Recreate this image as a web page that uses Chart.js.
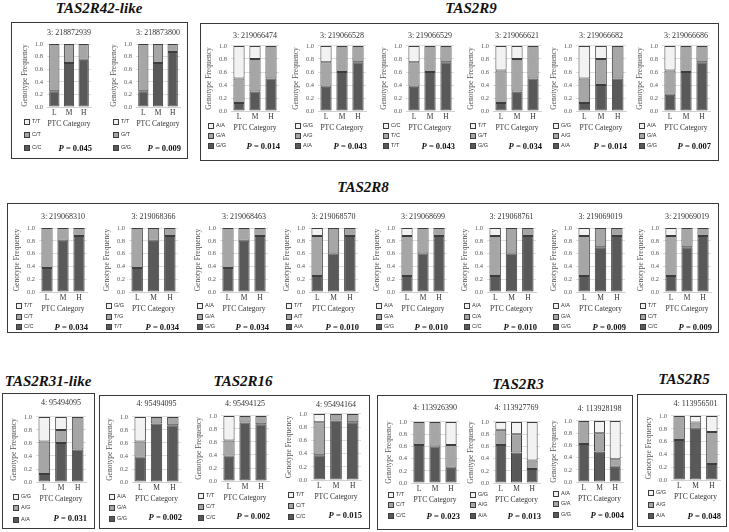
<!DOCTYPE html>
<html>
<head>
<meta charset="utf-8">
<script src="https://cdn.jsdelivr.net/npm/chart.js@4.4.1/dist/chart.umd.min.js"></script>
<style>
  html, body { margin: 0; padding: 0; background: #fff; }
  #page { position: relative; width: 729px; height: 532px; overflow: hidden; }
  .box { position: absolute; border: 1.5px solid #3a3a3a; box-sizing: border-box; }
  .gene { position: absolute; font: italic bold 15px "Liberation Serif", serif; transform: translate(-50%, -50%); white-space: nowrap; line-height: 1; color: #111; }
  .leg { position: absolute; font: 5.5px "Liberation Sans", sans-serif; color: #333; white-space: nowrap; line-height: 1; transform: translateY(-50%); }
  .leg i { display: inline-block; width: 4px; height: 4px; border: 1px solid #3d3d3d; margin-right: 2px; vertical-align: middle; }
  .pval { position: absolute; font: bold 8.5px "Liberation Serif", serif; transform: translate(-100%, -50%); white-space: nowrap; color: #111; }
</style>
</head>
<body>
<div id="page"></div>
<script>
// ---- data ----
const categories = ['L', 'M', 'H'];
const geneNames = ['TAS2R42-like', 'TAS2R9', 'TAS2R8', 'TAS2R31-like', 'TAS2R16', 'TAS2R3', 'TAS2R5'];
const yTickValues = [0, 0.2, 0.4, 0.6, 0.8, 1.0];

const snpLabels = [
  '3: 218872939', '3: 218873800',
  '3: 219066474', '3: 219066528', '3: 219066529', '3: 219066621', '3: 219066682', '3: 219066686',
  '3: 219068310', '3: 219068366', '3: 219068463', '3: 219068570', '3: 219068699', '3: 219068761', '3: 219069019', '3: 219069019',
  '4: 95494095',
  '4: 95494095', '4: 95494125', '4: 95494164',
  '4: 113926390', '4: 113927769', '4: 113928198',
  '4: 113956501'
];

// which gene each SNP panel belongs to
const panelGene = [0, 0, 1, 1, 1, 1, 1, 1, 2, 2, 2, 2, 2, 2, 2, 2, 3, 4, 4, 4, 5, 5, 5, 6];

// genotype frequencies per PTC category (L, M, H)
const bottomFreq = [
  [0.25, 0.70, 0.75], [0.25, 0.70, 0.875],
  [0.125, 0.30, 0.50], [0.375, 0.60, 0.75], [0.375, 0.60, 0.75], [0.125, 0.30, 0.50], [0.125, 0.40, 0.50], [0.25, 0.60, 0.75],
  [0.375, 0.80, 0.875], [0.375, 0.80, 0.875], [0.375, 0.80, 0.875], [0.25, 0.60, 0.875], [0.25, 0.60, 0.875], [0.25, 0.60, 0.875], [0.25, 0.70, 0.875], [0.25, 0.70, 0.875],
  [0.125, 0.60, 0.50],
  [0.375, 0.90, 0.875], [0.375, 0.90, 0.875], [0.375, 0.90, 0.875],
  [0.625, 0.60, 0.25], [0.625, 0.50, 0.23], [0.625, 0.50, 0.25],
  [0.625, 0.80, 0.25]
];
const middleFreq = [
  [0.75, 0.30, 0.25], [0.75, 0.30, 0.125],
  [0.375, 0.50, 0.50], [0.375, 0.40, 0.25], [0.375, 0.40, 0.25], [0.50, 0.50, 0.50], [0.375, 0.40, 0.50], [0.375, 0.40, 0.25],
  [0.625, 0.20, 0.125], [0.625, 0.20, 0.125], [0.625, 0.20, 0.125], [0.625, 0.40, 0.125], [0.625, 0.40, 0.125], [0.625, 0.40, 0.125], [0.625, 0.30, 0.125], [0.625, 0.30, 0.125],
  [0.50, 0.20, 0.50],
  [0.25, 0.10, 0.125], [0.25, 0.10, 0.125], [0.50, 0.10, 0.125],
  [0.375, 0.40, 0.375], [0.25, 0.30, 0.14], [0.375, 0.30, 0.125],
  [0.375, 0.10, 0.50]
];
const topFreq = [
  [0, 0, 0], [0, 0, 0],
  [0.50, 0.20, 0], [0.25, 0, 0], [0.25, 0, 0], [0.375, 0.20, 0], [0.50, 0.20, 0], [0.375, 0, 0],
  [0, 0, 0], [0, 0, 0], [0, 0, 0], [0.125, 0, 0], [0.125, 0, 0], [0.125, 0, 0], [0.125, 0, 0], [0.125, 0, 0],
  [0.375, 0.20, 0],
  [0.375, 0, 0], [0.375, 0, 0], [0.125, 0, 0],
  [0, 0, 0.375], [0.125, 0.20, 0.63], [0, 0.20, 0.625],
  [0, 0.10, 0.25]
];

// legend labels, listed top (white) to bottom (dark)
const genotypeLabels = [
  ['T/T', 'C/T', 'C/C'], ['T/T', 'G/T', 'G/G'],
  ['A/A', 'G/A', 'G/G'], ['G/G', 'A/G', 'A/A'], ['C/C', 'T/C', 'T/T'], ['T/T', 'G/T', 'G/G'], ['G/G', 'A/G', 'A/A'], ['A/A', 'G/A', 'G/G'],
  ['T/T', 'C/T', 'C/C'], ['G/G', 'T/G', 'T/T'], ['A/A', 'G/A', 'G/G'], ['T/T', 'A/T', 'A/A'], ['A/A', 'G/A', 'G/G'], ['A/A', 'C/A', 'C/C'], ['A/A', 'G/A', 'G/G'], ['T/T', 'C/T', 'C/C'],
  ['G/G', 'A/G', 'A/A'],
  ['A/A', 'G/A', 'G/G'], ['T/T', 'C/T', 'C/C'], ['T/T', 'C/T', 'C/C'],
  ['T/T', 'C/T', 'C/C'], ['G/G', 'A/G', 'A/A'], ['A/A', 'G/A', 'G/G'],
  ['G/G', 'A/G', 'A/A']
];

const pValues = [
  '0.045', '0.009',
  '0.014', '0.043', '0.043', '0.034', '0.014', '0.007',
  '0.034', '0.034', '0.034', '0.010', '0.010', '0.010', '0.009', '0.009',
  '0.031',
  '0.002', '0.002', '0.015',
  '0.023', '0.013', '0.004',
  '0.048'
];

// ---- layout (page pixels) ----
// plot area of each panel: [left, right, top, bottom]
const plotBoxes = [
  [47, 91, 44, 107], [136, 180, 44, 107],
  [231, 279, 46, 111], [318, 366, 46, 111], [406, 454, 46, 111], [493, 541, 46, 111], [576, 626, 46, 111], [662, 710, 46, 111],
  [39, 87, 228, 292], [129, 178, 228, 292], [220, 268, 228, 292], [309, 358, 228, 292], [399, 447, 228, 292], [487, 536, 228, 292], [576, 625, 228, 292], [663, 711, 228, 292],
  [36, 86, 417, 482],
  [132, 181, 417, 482], [221, 269, 416, 481], [311, 361, 414, 480],
  [411, 459, 422, 483], [493, 540, 422, 483], [576, 623, 421, 482],
  [671, 720, 416, 480]
];
const titleY = [33, 33, 36, 36, 36, 36, 36, 36, 217, 217, 217, 217, 217, 217, 217, 217, 403, 404, 404, 405, 408, 408, 409, 404];

// per gene group: outline box, title position, legend row offsets, p-value offset
const groupBox = [[11, 22, 188, 159], [200, 23, 719, 161], [7, 203, 719, 333], [2, 393, 95, 529], [99, 395, 370, 529], [377, 395, 633, 530], [637, 394, 727, 527]];
const groupTitle = [[99, 8], [471, 8], [363, 187], [48, 381], [243, 381], [518, 384], [684, 379]];
const legendDy = [[15, 28, 41], [15, 25, 35], [14, 25, 35], [15, 26, 38], [15, 26, 37], [12, 22, 33], [13, 25, 36]];
const pDy = [41, 35, 35, 36, 35, 33, 36];

const FONT = '"Liberation Serif", "Times New Roman", serif';
const FILL = ['#f2f2f2', '#a6a6a6', '#595959']; // top, middle, bottom
const page = document.getElementById('page');

groupBox.forEach(([l, t, r, b], g) => {
  const box = document.createElement('div');
  box.className = 'box';
  box.style.cssText = `left:${l}px;top:${t}px;width:${r - l}px;height:${b - t}px`;
  page.appendChild(box);
  const title = document.createElement('div');
  title.className = 'gene';
  title.textContent = geneNames[g];
  title.style.left = groupTitle[g][0] + 'px';
  title.style.top = groupTitle[g][1] + 'px';
  page.appendChild(title);
});

function makePanel(i) {
  const [l, r, t, b] = plotBoxes[i];
  const g = panelGene[i];
  const yAxisW = 28, xAxisH = 22, padR = 2;
  const cLeft = l - yAxisW;
  const cTop = Math.round(titleY[i] - 5.8);
  const w = r - cLeft + padR;
  const h = b + xAxisH - cTop;
  const titlePadBottom = t - (cTop + 1 + 9.6);

  const canvas = document.createElement('canvas');
  canvas.width = w;
  canvas.height = h;
  canvas.style.cssText = `position:absolute;left:${cLeft}px;top:${cTop}px;width:${w}px;height:${h}px`;
  page.appendChild(canvas);

  const series = [bottomFreq[i], middleFreq[i], topFreq[i]];
  const labels = [genotypeLabels[i][2], genotypeLabels[i][1], genotypeLabels[i][0]];
  const fills = [FILL[2], FILL[1], FILL[0]];

  new Chart(canvas, {
    type: 'bar',
    data: {
      labels: categories,
      datasets: series.map((vals, k) => ({
        label: labels[k],
        data: vals.map(v => (v > 0 ? v : null)),
        backgroundColor: fills[k],
        borderColor: '#3d3d3d',
        borderWidth: 1,
        borderSkipped: false,
        barPercentage: 0.7,
        categoryPercentage: 1
      }))
    },
    options: {
      responsive: false,
      animation: false,
      layout: { padding: { top: 0, right: padR, bottom: 0, left: 0 } },
      plugins: {
        legend: { display: false },
        tooltip: { enabled: false },
        title: {
          display: true,
          text: snpLabels[i],
          fullSize: false,
          color: '#333',
          font: { family: FONT, size: 8, weight: 'normal' },
          padding: { top: 1, bottom: titlePadBottom }
        }
      },
      scales: {
        x: {
          stacked: true,
          grid: { display: false, drawTicks: false },
          border: { color: '#d0d0d0' },
          ticks: { color: '#333', font: { family: FONT, size: 7.5 }, padding: 2 },
          title: { display: true, text: 'PTC Category', color: '#333', font: { family: FONT, size: 7.5 }, padding: 0 },
          afterFit: s => { s.height = xAxisH; }
        },
        y: {
          stacked: true,
          min: 0,
          max: 1,
          grid: { color: '#dcdcdc', drawTicks: false },
          border: { display: false },
          afterBuildTicks: s => { s.ticks = yTickValues.map(v => ({ value: v })); },
          ticks: {
            padding: 4,
            color: '#595959',
            font: { family: FONT, size: 6.5 },
            callback: v => Number(v).toFixed(1)
          },
          title: { display: true, text: 'Genotype Frequency', color: '#555', font: { family: FONT, size: 7.5 }, padding: { top: 2, bottom: 0 } },
          afterFit: s => { s.width = yAxisW; }
        }
      }
    }
  });

  // legend (top to bottom: white, light, dark)
  genotypeLabels[i].forEach((lab, k) => {
    const row = document.createElement('div');
    row.className = 'leg';
    row.style.left = (l - 23) + 'px';
    row.style.top = (b + legendDy[g][k]) + 'px';
    row.innerHTML = `<i style="background:${FILL[k]}"></i>${lab}`;
    page.appendChild(row);
  });

  const p = document.createElement('div');
  p.className = 'pval';
  p.innerHTML = `<i>P</i> = ${pValues[i]}`;
  p.style.left = (r + 1) + 'px';
  p.style.top = (b + pDy[g]) + 'px';
  page.appendChild(p);
}

snpLabels.forEach((_, i) => makePanel(i));
</script>
</body>
</html>
